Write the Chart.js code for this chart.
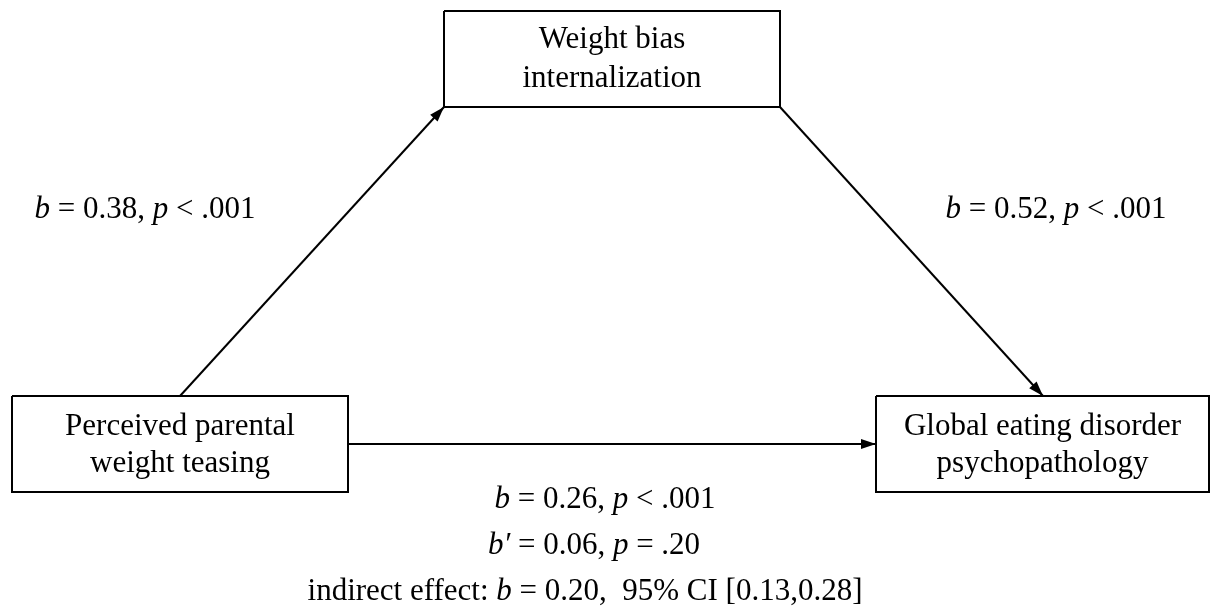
<!DOCTYPE html>
<html>
<head>
<meta charset="utf-8">
<script src="https://cdn.jsdelivr.net/npm/chart.js@4.4.1/dist/chart.umd.min.js"></script>
<style>
  body { margin: 0; background: #fff; }
  #wrap { width: 1211px; height: 613px; position: relative; }
</style>
</head>
<body>
<div id="wrap"><canvas id="plot"></canvas></div>
<script>
const plot = document.querySelector("#plot");
const ctx = plot.getContext("2d");

// data: variables and path coefficients
const nodeLabels = [
  ["Weight bias", "internalization"],
  ["Perceived parental", "weight teasing"],
  ["Global eating disorder", "psychopathology"]
];
const pathB = [0.38, 0.52, 0.26, 0.06];
const pathP = ["< .001", "< .001", "< .001", "= .20"];
const pathSym = ["b", "b", "b", "b\u2032"];
const indirectB = 0.20;
const indirectCI = [0.13, 0.28];

// layout (in canvas-sized data units): box = [x0, x1, y0, y1]
const nodeBoxes = [
  [444, 780, 11, 107],
  [12, 348, 396, 492],
  [876, 1209, 396, 492]
];
const lineBase = [[48, 87], [435, 472], [435, 472]];
const arrows = [
  [[180, 396], [444, 107]],
  [[780, 107], [1043, 396]],
  [[348, 444], [876, 444]]
];
const labelPos = [[145, 218], [1056, 218], [605, 508], [594, 554], [585, 600]];

const FONT = "'Liberation Serif', 'Times New Roman', serif";
const SIZE = 31;

const rectPoints = b => [
  { x: b[0], y: b[2] }, { x: b[1], y: b[2] }, { x: b[1], y: b[3] },
  { x: b[0], y: b[3] }, { x: b[0], y: b[2] }
];

let datasets = [];
for (let i = 0; i < nodeBoxes.length; i++) {
  datasets.push({
    label: "box" + i,
    data: rectPoints(nodeBoxes[i]),
    showLine: true,
    borderColor: "#000",
    borderWidth: 2,
    pointRadius: 0,
    borderJoinStyle: "miter"
  });
}
for (let i = 0; i < arrows.length; i++) {
  datasets.push({
    label: "arrow" + i,
    data: arrows[i].map(p => ({ x: p[0], y: p[1] })),
    showLine: true,
    borderColor: "#000",
    borderWidth: 2,
    pointRadius: 0,
    isArrow: true
  });
}

const coefText = i => [
  { t: pathSym[i], it: true },
  { t: " = " + pathB[i].toFixed(2) + ", " },
  { t: "p", it: true },
  { t: " " + pathP[i] }
];
const labels = [
  coefText(0),
  coefText(1),
  coefText(2),
  coefText(3),
  [
    { t: "indirect effect: " },
    { t: "b", it: true },
    { t: " = " + indirectB.toFixed(2) + ",  95% CI [" + indirectCI[0].toFixed(2) + "," + indirectCI[1].toFixed(2) + "]" }
  ]
];

const drawRich = (c, segs, cx, y) => {
  let w = 0;
  segs.forEach(s => {
    c.font = (s.it ? "italic " : "") + SIZE + "px " + FONT;
    s.w = c.measureText(s.t).width;
    w += s.w;
  });
  let x = cx - w / 2;
  segs.forEach(s => {
    c.font = (s.it ? "italic " : "") + SIZE + "px " + FONT;
    c.fillText(s.t, x, y);
    x += s.w;
  });
};

const diagramPlugin = {
  id: "diagram",
  afterDatasetsDraw(chart) {
    const c = chart.ctx;
    const xs = chart.scales.x, ys = chart.scales.y;
    c.save();
    c.fillStyle = "#000";
    // arrowheads
    chart.data.datasets.forEach((ds, di) => {
      if (!ds.isArrow) return;
      const pts = chart.getDatasetMeta(di).data;
      const a = pts[pts.length - 2], b = pts[pts.length - 1];
      const ang = Math.atan2(b.y - a.y, b.x - a.x);
      const len = 15, hw = 5;
      c.beginPath();
      c.moveTo(b.x, b.y);
      c.lineTo(b.x - len * Math.cos(ang) + hw * Math.sin(ang), b.y - len * Math.sin(ang) - hw * Math.cos(ang));
      c.lineTo(b.x - len * Math.cos(ang) - hw * Math.sin(ang), b.y - len * Math.sin(ang) + hw * Math.cos(ang));
      c.closePath();
      c.fill();
    });
    // node text
    c.textBaseline = "alphabetic";
    c.textAlign = "left";
    nodeLabels.forEach((lines, i) => {
      const b = nodeBoxes[i];
      const cx = xs.getPixelForValue((b[0] + b[1]) / 2);
      lines.forEach((ln, j) => {
        drawRich(c, [{ t: ln }], cx, ys.getPixelForValue(lineBase[i][j]));
      });
    });
    // coefficient text
    labels.forEach((segs, i) => {
      drawRich(c, segs, xs.getPixelForValue(labelPos[i][0]), ys.getPixelForValue(labelPos[i][1]));
    });
    c.restore();
  }
};

const chart = new Chart(ctx, {
  type: "scatter",
  data: { datasets },
  options: {
    responsive: true,
    maintainAspectRatio: false,
    animation: false,
    layout: { padding: 0 },
    plugins: { legend: { display: false }, tooltip: { enabled: false } },
    elements: { line: { tension: 0 } },
    scales: {
      x: { type: "linear", min: 0, max: 1211, display: false },
      y: { type: "linear", min: 0, max: 613, reverse: true, display: false }
    }
  },
  plugins: [diagramPlugin]
});
</script>
</body>
</html>
